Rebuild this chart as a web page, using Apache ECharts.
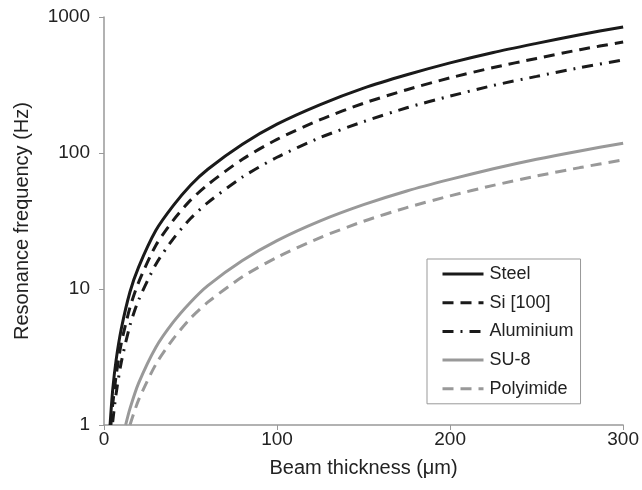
<!DOCTYPE html>
<html>
<head>
<meta charset="utf-8">
<script src="https://cdn.jsdelivr.net/npm/echarts@6/dist/echarts.min.js"></script>
<style>
  html, body { margin: 0; padding: 0; background: #fff; }
  #chart { width: 642px; height: 490px; }
</style>
</head>
<body>
<div id="chart"></div>
<script>
// values (x = beam thickness in um, y = frequency in Hz)
const steel = [[3.5, 1], [5, 1.8], [7, 3], [10, 5.1], [15, 9.5], [20, 14.5], [30, 27], [40, 41], [50, 58], [60, 76], [80, 116], [100, 163], [125, 227], [150, 300], [175, 376], [200, 460], [225, 549], [250, 640], [275, 741], [300, 845]]
const si100 = [[4, 1], [5, 1.4], [7, 2.3], [10, 4], [15, 7.3], [20, 11.2], [30, 21], [40, 32], [50, 45], [60, 58.6], [80, 90], [100, 126], [125, 176], [150, 232], [175, 292], [200, 357], [225, 425], [250, 496], [275, 575], [300, 655]]
const aluminium = [[5, 1.05], [7, 1.7], [10, 2.9], [15, 5.4], [20, 8.3], [30, 15.2], [40, 23.4], [50, 33], [60, 43.2], [80, 66.5], [100, 93], [125, 130], [150, 170], [175, 215], [200, 262], [225, 314], [250, 366], [275, 424], [300, 483]]
const su8 = [[12.5, 1], [15, 1.32], [20, 2.03], [30, 3.73], [40, 5.7], [50, 8], [60, 10.6], [80, 16.2], [100, 22.7], [125, 31.7], [150, 41.7], [175, 52.6], [200, 64], [225, 76.6], [250, 90], [275, 103.6], [300, 118]]
const polyimide = [[15, 1], [20, 1.53], [30, 2.8], [40, 4.3], [50, 6.1], [60, 8], [80, 12.3], [100, 17.1], [125, 23.9], [150, 31.5], [175, 39.7], [200, 48.4], [225, 57.8], [250, 67.7], [275, 78.1], [300, 89]]

const seriesNames = ['Steel', 'Si [100]', 'Aluminium', 'SU-8', 'Polyimide']

const font = "'Liberation Sans', Arial, sans-serif"
const black = '#1a1a1a'
const gray = '#999999'

const chart = echarts.init(document.getElementById('chart'))

function lineSeries(name, data, color, type) {
  return {
    name: name,
    type: 'line',
    data: data,
    smooth: 0.25,
    symbol: 'none',
    animation: false,
    lineStyle: { color: color, width: 3, type: type },
    itemStyle: { color: color }
  }
}

const option = {
  animation: false,
  textStyle: { fontFamily: font },
  grid: { left: 104, right: 18, top: 17, bottom: 65 },
  legend: {
    orient: 'vertical',
    left: 427,
    top: 259,
    padding: [6, 7, 6, 14],
    itemWidth: 41,
    itemHeight: 18,
    itemGap: 10.7,
    borderColor: '#999',
    borderWidth: 1,
    borderRadius: 0,
    backgroundColor: '#fff',
    itemStyle: { opacity: 0 },
    lineStyle: { width: 3 },
    textStyle: { fontFamily: font, fontSize: 18, color: '#222', padding: [0, 0, 0, 1] },
    data: seriesNames
  },
  xAxis: {
    type: 'value',
    min: 0,
    max: 300,
    interval: 100,
    name: 'Beam thickness (\u03bcm)',
    nameLocation: 'middle',
    nameGap: 33,
    nameTextStyle: { fontSize: 20, color: '#222', fontFamily: font },
    axisLine: { show: true, lineStyle: { color: gray, width: 1.5 } },
    axisTick: { show: true, length: 5, lineStyle: { color: gray } },
    axisLabel: { fontSize: 19, color: '#222', margin: 5, fontFamily: font },
    splitLine: { show: false }
  },
  yAxis: {
    type: 'log',
    logBase: 10,
    min: 1,
    max: 1000,
    name: 'Resonance frequency (Hz)',
    nameLocation: 'middle',
    nameGap: 72,
    nameTextStyle: { fontSize: 20, color: '#222', fontFamily: font },
    axisLine: { show: true, lineStyle: { color: gray, width: 1.5 } },
    axisTick: { show: true, length: 5, lineStyle: { color: gray } },
    minorTick: { show: false },
    axisLabel: {
      fontSize: 19, color: '#222', margin: 14, fontFamily: font,
      formatter: function (v) { return String(Math.round(v)) }
    },
    splitLine: { show: false }
  },
  series: [
    lineSeries('Steel', steel, black, 'solid'),
    lineSeries('Si [100]', si100, black, [11, 7]),
    lineSeries('Aluminium', aluminium, black, [11, 7, 2, 7]),
    lineSeries('SU-8', su8, gray, 'solid'),
    lineSeries('Polyimide', polyimide, gray, [11, 7])
  ]
}

chart.setOption(option)
</script>
</body>
</html>
